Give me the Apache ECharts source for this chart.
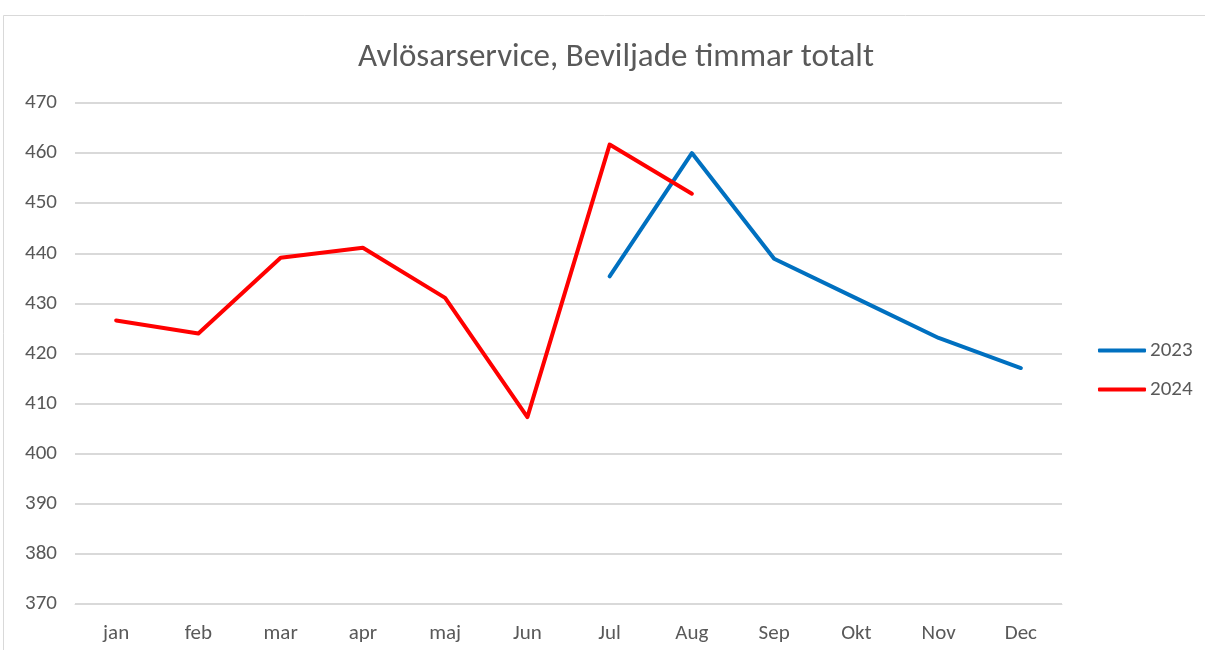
<!DOCTYPE html>
<html>
<head>
<meta charset="utf-8">
<script src="https://cdn.jsdelivr.net/npm/echarts@6/dist/echarts.min.js"></script>
<style>
  html, body { margin: 0; padding: 0; background: #fff; }
  #chart { width: 1205px; height: 650px; }
</style>
</head>
<body>
<div id="chart"></div>
<script>
const months = ['jan', 'feb', 'mar', 'apr', 'maj', 'Jun', 'Jul', 'Aug', 'Sep', 'Okt', 'Nov', 'Dec'];
const values2023 = [null, null, null, null, null, null, 435.4, 460.0, 438.9, 431.0, 423.1, 417.1];
const values2024 = [426.6, 424.0, 439.1, 441.1, 431.1, 407.3, 461.7, 451.9, null, null, null, null];
const yTicks = [370, 380, 390, 400, 410, 420, 430, 440, 450, 460, 470];

const textColor = '#595959';
const font = 'Calibri, Carlito, "Open Sans", "Noto Sans", sans-serif';

const chart = echarts.init(document.getElementById('chart'), null, { renderer: 'canvas' });
chart.setOption({
  animation: false,
  backgroundColor: '#fff',
  graphic: [{
    type: 'rect',
    shape: { x: 3.5, y: 15.5, width: 1220, height: 660 },
    style: { fill: 'none', stroke: '#d9d9d9', lineWidth: 1 },
    silent: true
  }],
  title: {
    text: 'Avlösarservice, Beviljade timmar totalt',
    left: 611,
    textAlign: 'center',
    top: 36,
    textStyle: { color: textColor, fontSize: 33, fontWeight: 'normal', fontFamily: font }
  },
  legend: {
    orient: 'vertical',
    left: 1093,
    top: 335,
    itemWidth: 48,
    itemHeight: 4,
    itemGap: 18,
    icon: 'roundRect',
    textStyle: { color: textColor, fontSize: 21, fontFamily: font, padding: [0, 0, 0, -1] },
    data: ['2023', '2024']
  },
  grid: { left: 75, right: 143, top: 103, bottom: 46, containLabel: false },
  xAxis: {
    type: 'category',
    data: months,
    boundaryGap: true,
    axisLine: { show: true, lineStyle: { color: '#d9d9d9', width: 1 } },
    axisTick: { show: false },
    axisLabel: { color: textColor, fontSize: 21, fontFamily: font, margin: 19 }
  },
  yAxis: {
    type: 'value',
    min: yTicks[0],
    max: yTicks[yTicks.length - 1],
    interval: 10,
    axisLine: { show: false },
    axisTick: { show: false },
    axisLabel: { color: textColor, fontSize: 21, fontFamily: font, margin: 18 },
    splitLine: { lineStyle: { color: '#d9d9d9', width: 2 } }
  },
  series: [
    {
      name: '2023',
      type: 'line',
      data: values2023,
      showSymbol: false,
      symbol: 'none',
      connectNulls: false,
      itemStyle: { color: '#0070C0' },
      lineStyle: { color: '#0070C0', width: 4, cap: 'round', join: 'round' }
    },
    {
      name: '2024',
      type: 'line',
      data: values2024,
      showSymbol: false,
      symbol: 'none',
      connectNulls: false,
      itemStyle: { color: '#FF0000' },
      lineStyle: { color: '#FF0000', width: 4, cap: 'round', join: 'round' }
    }
  ]
});
</script>
</body>
</html>
